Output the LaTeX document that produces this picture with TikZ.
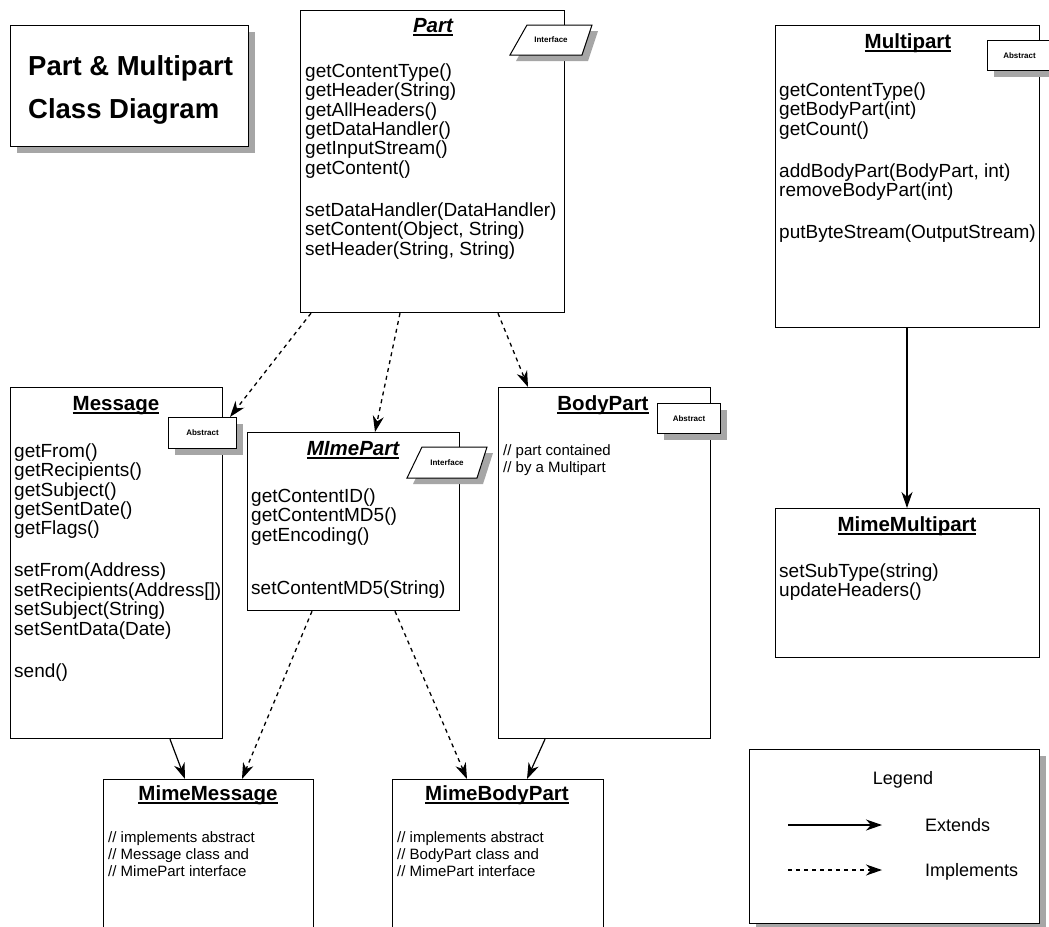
\documentclass[tikz,border=0pt]{standalone}
\usepackage{fontspec}
\setmainfont{Liberation Sans}
\usetikzlibrary{arrows.meta,calc}
\definecolor{shadowgray}{RGB}{166,166,166}
\newcommand\ttlu[1]{\setbox0\hbox{#1}\rlap{\rule[-3.5pt]{\wd0}{1.5pt}}\box0}
\newcommand\flm{\rule{0pt}{15pt}}
\newcommand\flc{\rule{0pt}{12pt}}
\begin{document}
\begin{tikzpicture}[x=1pt,y=-1pt,
  cls/.style={draw, line width=1.2pt, fill=white, inner sep=0pt, anchor=north west},
  ttl/.style={font=\fontsize{20.5}{22}\selectfont\bfseries, anchor=base, inner sep=0pt},
  meth/.style={font=\fontsize{19}{19.4}\selectfont, align=left, anchor=north west, inner sep=0pt},
  cmt/.style={font=\fontsize{15}{17}\selectfont, align=left, anchor=north west, inner sep=0pt},
  tagtxt/.style={font=\fontsize{8}{9}\selectfont\bfseries, inner sep=0pt},
  abstag/.style={draw, line width=1pt, fill=white, inner sep=0pt, anchor=north west, font=\fontsize{8}{9}\selectfont\bfseries},
  tagline/.style={draw, line width=1pt, fill=white},
  shade/.style={fill=shadowgray},
  tip/.style={-{Stealth[length=16pt,width=11pt,inset=5pt]}},
  ext/.style={tip, line width=1.2pt},
  impl/.style={tip, line width=1.3pt, dash pattern=on 4pt off 4pt},
  legtxt/.style={font=\fontsize{18}{20}\selectfont, inner sep=0pt},
]
\useasboundingbox (0,0) rectangle (1049,926);

% title
\fill[shade] (17,32) rectangle (255,153);
\node[cls, minimum width=238pt, minimum height=121pt] (titlebox) at (10,25) {};
\node[anchor=base west, inner sep=0pt, font=\fontsize{27.5}{30}\selectfont\bfseries] (title1) at (28,75) {Part \& Multipart};
\node[anchor=base west, inner sep=0pt, font=\fontsize{27.5}{30}\selectfont\bfseries] (title2) at (28,118) {Class Diagram};

% Part
\node[cls, minimum width=264pt, minimum height=302pt] (part) at (300,10) {};
\node[ttl] (parttitle) at (433,32) {\ttlu{\itshape Part}};
\node[meth] (partm) at (305,62) {\flm getContentType()\\ getHeader(String)\\ getAllHeaders()\\ getDataHandler()\\ getInputStream()\\ getContent()\\[22.6pt] setDataHandler(DataHandler)\\ setContent(Object, String)\\ setHeader(String, String)};

% Multipart
\node[cls, minimum width=264pt, minimum height=302pt] (multi) at (775,25) {};
\node[ttl] (multititle) at (908,48) {\ttlu{Multipart}};
\node[meth] (multim) at (779,81) {\flm getContentType()\\ getBodyPart(int)\\ getCount()\\[22.6pt] addBodyPart(BodyPart, int)\\ removeBodyPart(int)\\[22.6pt] putByteStream(OutputStream)};

% MimeMultipart
\node[cls, minimum width=264pt, minimum height=149pt] (mmulti) at (775,508) {};
\node[ttl] (mmultititle) at (907,531) {\ttlu{MimeMultipart}};
\node[meth] (mmultim) at (779,562) {\flm setSubType(string)\\ updateHeaders()};

% Message
\node[cls, minimum width=212pt, minimum height=351pt] (msg) at (10,387) {};
\node[ttl] (msgtitle) at (116,410) {\ttlu{Message}};
\node[meth] (msgm) at (14,442) {\flm getFrom()\\ getRecipients()\\ getSubject()\\ getSentDate()\\ getFlags()\\[22.6pt] setFrom(Address)\\ setRecipients(Address[])\\ setSubject(String)\\ setSentData(Date)\\[22.6pt] send()};

% MimePart
\node[cls, minimum width=212pt, minimum height=178pt] (mpart) at (247,432) {};
\node[ttl] (mparttitle) at (353,455) {\ttlu{\itshape MImePart}};
\node[meth] (mpartm) at (251,487) {\flm getContentID()\\ getContentMD5()\\ getEncoding()\\[33.6pt] setContentMD5(String)};

% BodyPart
\node[cls, minimum width=212pt, minimum height=351pt] (bpart) at (498,387) {};
\node[ttl] (bparttitle) at (603,410) {\ttlu{BodyPart}};
\node[cmt] (bpartc) at (503,443) {\flc // part contained\\ // by a Multipart};

% MimeMessage
\node[cls, minimum width=210pt, minimum height=160pt] (mmsg) at (103,779) {};
\node[ttl] (mmsgtitle) at (208,800) {\ttlu{MimeMessage}};
\node[cmt] (mmsgc) at (108,830) {\flc // implements abstract\\ // Message class and\\ // MimePart interface};

% MimeBodyPart
\node[cls, minimum width=211pt, minimum height=160pt] (mbpart) at (392,779) {};
\node[ttl] (mbparttitle) at (497,800) {\ttlu{MimeBodyPart}};
\node[cmt] (mbpartc) at (397,830) {\flc // implements abstract\\ // BodyPart class and\\ // MimePart interface};

% tags
\fill[shade] (533,31) -- (598,31) -- (588,61) -- (516,61) -- cycle;
\draw[tagline] (527,25) -- (592,25) -- (582,55) -- (510,55) -- cycle;
\node[tagtxt] (parttag) at (551,40) {Interface};

\fill[shade] (428,453) -- (493,453) -- (483,484) -- (413,484) -- cycle;
\draw[tagline] (422,447) -- (487,447) -- (477,478) -- (407,478) -- cycle;
\node[tagtxt] (mparttag) at (447,462.5) {Interface};

\fill[shade] (175,424) rectangle (243,455);
\node[abstag, minimum width=68pt, minimum height=31pt] (msgtag) at (168,417) {Abstract};
\fill[shade] (664,410) rectangle (727,440);
\node[abstag, minimum width=63pt, minimum height=30pt] (bparttag) at (657,403) {Abstract};
\fill[shade] (994,47) rectangle (1058,77);
\node[abstag, minimum width=64pt, minimum height=30pt] (multitag) at (987,40) {Abstract};

% connectors
\draw[impl] ([xshift=11pt]part.south west) -- ([xshift=-7pt]msgtag.north east);
\draw[impl] ([xshift=100pt]part.south west) -- ([xshift=128pt]mpart.north west);
\draw[impl] ([xshift=198pt]part.south west) -- ([xshift=30pt]bpart.north west);
\draw[ext] ([xshift=160pt]msg.south west) -- ([xshift=82pt]mmsg.north west);
\draw[impl] ([xshift=65pt]mpart.south west) -- ([xshift=139pt]mmsg.north west);
\draw[impl] ([xshift=148pt]mpart.south west) -- ([xshift=75pt]mbpart.north west);
\draw[ext] ([xshift=47pt]bpart.south west) -- ([xshift=135pt]mbpart.north west);
\draw[ext] ([xshift=132pt]multi.south west) -- ([xshift=132pt]mmulti.north west);

% legend
\fill[shade] (756,756) rectangle (1046,930);
\node[cls, minimum width=290pt, minimum height=174pt] (legend) at (749,749) {};
\node[legtxt, anchor=base] (legtitle) at (903,784) {Legend};
\coordinate (e1) at (788,825);
\coordinate (e2) at (882,825);
\coordinate (i1) at (788,870);
\coordinate (i2) at (882,870);
\draw[ext] (e1) -- (e2);
\draw[impl] (i1) -- (i2);
\node[legtxt, anchor=base west] (legext) at (925,831) {Extends};
\node[legtxt, anchor=base west] (legimpl) at (925,876) {Implements};
\end{tikzpicture}
\end{document}
